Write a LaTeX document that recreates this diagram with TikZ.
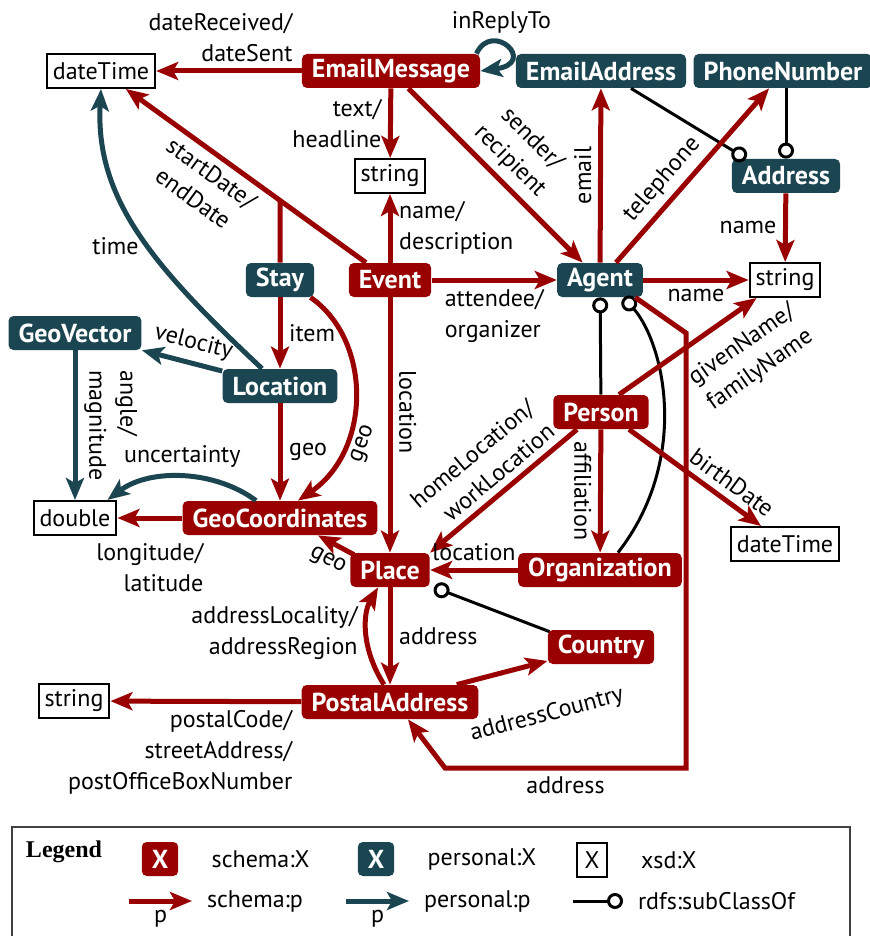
\documentclass[tikz,border=0pt]{standalone}
\usepackage{fontspec}
\setmainfont{PT Sans}
\newfontfamily\legendfont{Liberation Serif}
\usepackage{tikz}
\usetikzlibrary{arrows.meta,positioning,calc}
\definecolor{schemared}{RGB}{153,0,0}
\definecolor{personalteal}{RGB}{26,69,81}

\begin{document}
\begin{tikzpicture}[x=0.5pt, y=-0.5pt,
    every node/.style={font=\fontsize{12}{15.5}\selectfont},
    schema/.style={fill=schemared, text=white, rounded corners=2.5pt, font=\fontsize{13}{15.5}\selectfont\bfseries, minimum height=17pt, inner xsep=5pt, inner ysep=2pt},
    personal/.style={schema, fill=personalteal},
    xsd/.style={draw=black, line width=1pt, fill=white, minimum height=17pt, inner xsep=3pt, inner ysep=2pt},
    sprop/.style={draw=schemared, line width=2.5pt, -{Stealth[length=11pt,width=9pt,inset=2.5pt]}},
    pprop/.style={sprop, draw=personalteal},
    subcls/.style={draw=black, line width=1.5pt, -{Circle[open,length=8pt,width=8pt]}}]
    \useasboundingbox (0,0) rectangle (870,936);

    % classes
    \node[xsd] (dtA) at (101,71) {dateTime};
    \node[schema] (email) at (391,71) {EmailMessage};
    \node[personal] (emaddr) at (601,71) {EmailAddress};
    \node[personal] (phone) at (783,71) {PhoneNumber};
    \node[xsd] (strA) at (390,176) {string};
    \node[personal] (address) at (786,176) {Address};
    \node[personal] (stay) at (280,280) {Stay};
    \node[schema] (event) at (390,280) {Event};
    \node[personal] (agent) at (600,280) {Agent};
    \node[xsd] (strB) at (785,280) {string};
    \node[personal] (geovec) at (75,333) {GeoVector};
    \node[personal] (location) at (280,386) {Location};
    \node[schema] (person) at (601,412) {Person};
    \node[xsd] (double) at (75,518) {double};
    \node[schema] (geocoord) at (280,518) {GeoCoordinates};
    \node[xsd] (dtB) at (785,544) {dateTime};
    \node[schema] (place) at (390,570) {Place};
    \node[schema] (org) at (600,570) {Organization};
    \node[schema] (country) at (601,647) {Country};
    \node[xsd] (strC) at (74,701) {string};
    \node[schema] (postal) at (390,702) {PostalAddress};

    % subclass links
    \draw[subcls] ([xshift=15pt]emaddr.south) -- ([xshift=-20pt]address.north);
    \draw[subcls] (address.north |- phone.south) -- (address.north);
    \draw[subcls] (person) -- (agent);
    \draw[subcls] ([xshift=9pt]org.north) .. controls (690,460) and (665,345) .. ([xshift=12pt]agent.south);
    \draw[subcls] ([xshift=1pt,yshift=-1pt]country.north west) -- ([xshift=2pt]place.south east);

    % EmailMessage
    \draw[sprop] (email) -- (dtA) node[pos=0, above left, align=right]{dateReceived/\\dateSent};
    \draw[pprop] ([xshift=-2pt]email.north east) .. controls +(16,-34) and +(58,-8) .. (email.east)
        node[pos=0.4, above]{inReplyTo};
    \draw[sprop] (email) -- (strA) node[midway, left, align=right]{text/\\headline};
    \draw[sprop] (email) -- (agent) node[midway, sloped, above, align=center]{sender/\\recipient};

    % Event and Stay
    \draw[sprop] (event) -- (strA) node[midway, right, align=left]{name/\\description};
    \draw[sprop] (event) -- (dtA) node[pos=0.6, sloped, below, align=center]{startDate/\\endDate};
    \coordinate (sjoin) at (intersection of event--dtA and stay--stay.north);
    \draw[draw=schemared, line width=2.5pt] (stay) -- (sjoin);
    \draw[sprop] (event) -- (agent) node[midway, below, align=left]{attendee/\\organizer};
    \draw[sprop] (event) -- (place) node[pos=0.45, anchor=south, rotate=-90]{location};
    \draw[sprop] (stay) -- (location) node[midway, right]{item};
    \draw[sprop] ([xshift=-2pt]stay.south east) .. controls (372,340) and (372,450) .. ([xshift=9pt]geocoord.north)
        node[pos=0.68, sloped, below]{geo};

    % Location
    \draw[sprop] (location) -- (geocoord) node[midway, right]{geo};
    \draw[pprop] (location) -- (geovec) node[pos=0.42, sloped, above]{velocity};
    \draw[pprop] ([xshift=-9pt]location.north) .. controls (155,268) and (95,200) .. (dtA.south)
        node[pos=0.45, left]{time};
    \draw[pprop] (geovec) -- (double) node[midway, anchor=south, rotate=-90, align=left]{angle/\\magnitude};

    % GeoCoordinates
    \draw[sprop] (geocoord) -- (double) node[midway, below=8pt, align=right]{longitude/\\latitude};
    \draw[pprop] ([xshift=-12pt]geocoord.north) .. controls (215,470) and (150,468) .. ([xshift=-5pt]double.north east)
        node[midway, above]{uncertainty};

    % Place and PostalAddress
    \draw[sprop] ([xshift=2pt,yshift=-1pt]place.north west) -- ([xshift=19pt]geocoord.south)
        node[midway, sloped, below]{geo};
    \draw[sprop] (place) -- (postal) node[midway, right]{address};
    \draw[sprop] ([xshift=-3pt]postal.north) .. controls (362,650) and (362,615) .. ([xshift=-6pt]place.south)
        node[midway, left, align=right]{addressLocality/\\addressRegion};
    \draw[sprop] (postal) -- (strC) node[pos=0, below left, align=right]{postalCode/\\streetAddress/\\postOfficeBoxNumber};
    \draw[sprop] (postal) -- (country) node[pos=0.85, sloped, below=16pt]{addressCountry};

    % Agent
    \draw[sprop] ([xshift=-4pt]agent.south east) -- (686,333) -- (686,768) -- node[below]{address} (445,768)
        -- ([xshift=9pt]postal.south);
    \draw[sprop] (agent) -- (emaddr) node[midway, anchor=south, rotate=90]{email};
    \draw[sprop] ([xshift=8pt]agent.north) -- ([xshift=-7pt]phone.south) node[pos=0.4, sloped, above]{telephone};
    \draw[sprop] (agent) -- (strB) node[midway, below]{name};
    \draw[sprop] (address) -- (strB) node[midway, left]{name};

    % Person and Organization
    \draw[sprop] ([xshift=9pt]person.north) -- ([xshift=4pt]strB.south west)
        node[pos=0.77, sloped, below=5pt, align=center]{givenName/\\familyName};
    \draw[sprop] ([xshift=-12pt]person.south) -- (place.north east)
        node[midway, sloped, above, align=right]{homeLocation/\\workLocation};
    \draw[sprop] (person) -- (org) node[midway, anchor=north, rotate=-90]{affiliation};
    \draw[sprop] ([xshift=14pt]person.south) -- ([xshift=-12pt]dtB.north) node[pos=0.7, sloped, above]{birthDate};
    \draw[sprop] (org) -- (place) node[midway, above]{location};

    % legend
    \draw[line width=0.8pt, black!75] (12,940) -- (12,827) -- (850,827) -- (850,940);
    \node[font={\legendfont\fontsize{12}{15}\selectfont\bfseries}] (lgtitle) at (64,852) {Legend};
    \node[schema, minimum width=16pt] (lgS) at (160,859) {X};
    \node[right=13pt of lgS] (lgStext) {schema:X};
    \node[personal, minimum width=16pt] (lgP) at (376,859) {X};
    \node[right=13pt of lgP] (lgPtext) {personal:X};
    \node[xsd, minimum width=15pt, inner xsep=2pt] (lgX) at (592,860) {X};
    \node[right=13pt of lgX] (lgXtext) {xsd:X};
    \coordinate (lgSa) at (129,901);
    \coordinate (lgSb) at (192,901);
    \draw[sprop] (lgSa) -- node[below]{p} (lgSb);
    \node[right=4pt of lgSb] (lgSptext) {schema:p};
    \coordinate (lgPa) at (346,901);
    \coordinate (lgPb) at (409,901);
    \draw[pprop] (lgPa) -- node[below]{p} (lgPb);
    \node[right=4pt of lgPb] (lgPptext) {personal:p};
    \coordinate (lgCa) at (573,901);
    \coordinate (lgCb) at (623,901);
    \draw[subcls] (lgCa) -- (lgCb);
    \node[right=4pt of lgCb] (lgCtext) {rdfs:subClassOf};
\end{tikzpicture}
\end{document}
